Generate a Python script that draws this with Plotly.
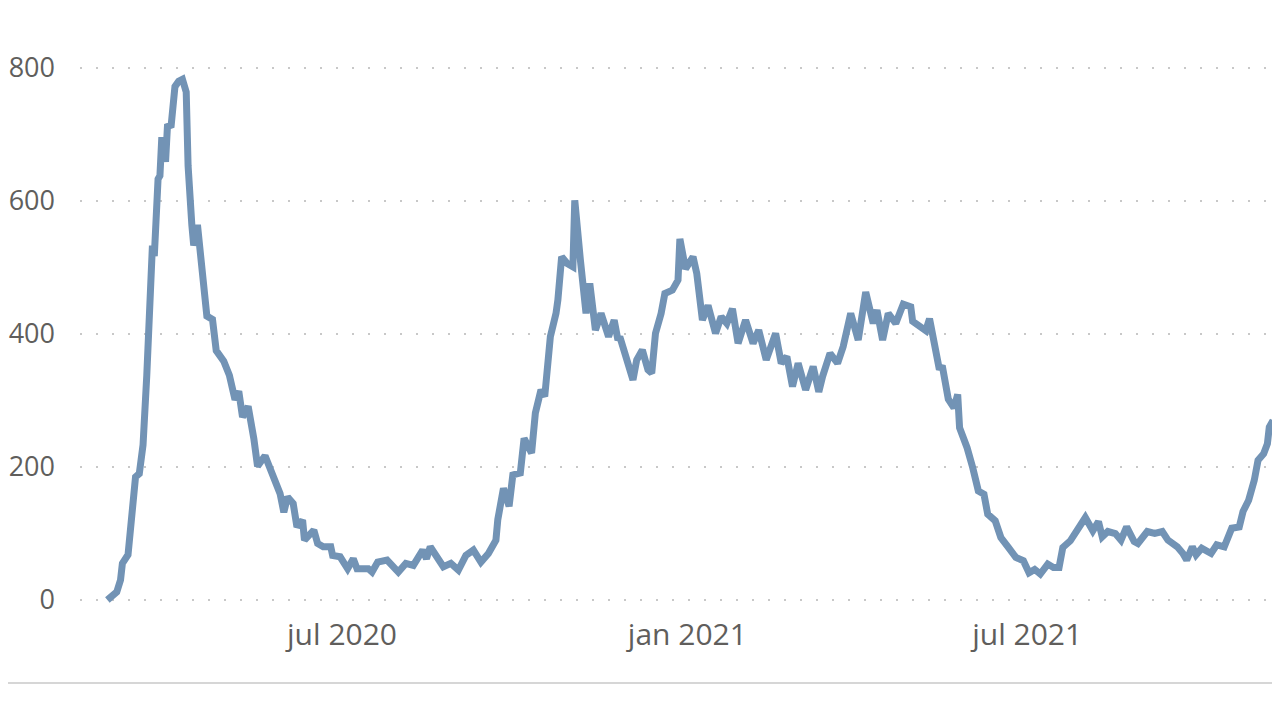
import pandas as pd
import plotly.graph_objects as go

start_date = "2020-02-27"
day = [0, 3, 5, 7, 8, 11, 13, 15, 17, 19, 21, 23, 24, 25, 26, 27, 28, 29, 31, 32,
       34, 36, 38, 40, 42, 43, 45, 46, 48, 50, 52, 53, 56, 58, 62, 65, 68, 70, 72, 75,
       78, 80, 84, 87, 92, 94, 96, 99, 101, 104, 105, 110, 112, 115, 119, 120, 124, 128, 131, 133,
       139, 141, 144, 149, 152, 155, 159, 163, 168, 170, 172, 175, 179, 183, 187, 191, 195, 199, 203, 207,
       208, 211, 214, 216, 220, 222, 226, 228, 231, 233, 236, 239, 240, 242, 245, 248, 249, 252, 255, 257,
       260, 263, 265, 267, 270, 272, 273, 277, 280, 282, 285, 288, 290, 292, 295, 297, 301, 304, 305, 308,
       312, 314, 317, 320, 322, 324, 327, 330, 333, 336, 340, 344, 347, 351, 356, 359, 362, 365, 368, 372,
       376, 379, 381, 385, 389, 392, 396, 400, 404, 408, 410, 413, 416, 420, 424, 428, 429, 433, 436, 438,
       440, 443, 445, 448, 451, 453, 454, 458, 461, 464, 467, 469, 473, 476, 480, 484, 488, 491, 494, 497,
       501, 504, 507, 509, 513, 517, 521, 525, 528, 530, 533, 537, 540, 543, 547, 549, 554, 558, 562, 565,
       570, 573, 575, 578, 580, 583, 588, 591, 595, 599, 603, 605, 608, 611, 613, 616, 618, 619, 621]
value = [0, 6, 12, 30, 55, 68, 130, 185, 190, 233, 338, 475, 533, 517, 590, 633, 638, 696, 659, 712,
         714, 772, 780, 783, 764, 653, 564, 533, 564, 512, 443, 427, 422, 375, 359, 338, 301, 314, 275, 291,
         243, 201, 217, 196, 160, 132, 155, 145, 110, 120, 90, 105, 85, 80, 80, 67, 65, 47, 62, 47,
         47, 42, 57, 60, 52, 42, 55, 52, 75, 62, 80, 67, 50, 55, 45, 67, 75, 57, 70, 90,
         121, 168, 141, 188, 191, 243, 221, 281, 316, 306, 396, 431, 451, 516, 506, 501, 601, 511, 431, 476,
         406, 431, 416, 396, 421, 391, 396, 361, 331, 361, 376, 346, 341, 401, 431, 461, 466, 481, 543, 498,
         516, 491, 421, 443, 421, 401, 426, 416, 438, 386, 421, 386, 406, 361, 401, 356, 366, 321, 356, 316,
         351, 313, 336, 371, 356, 381, 431, 391, 463, 416, 436, 391, 431, 416, 445, 441, 419, 412, 405, 423,
         389, 350, 349, 302, 289, 309, 259, 229, 199, 164, 159, 129, 119, 94, 79, 64, 59, 41, 46, 39,
         54, 49, 49, 79, 89, 106, 124, 104, 118, 95, 103, 100, 90, 110, 88, 85, 103, 100, 103, 90,
         80, 70, 60, 80, 68, 78, 70, 83, 80, 108, 110, 133, 150, 180, 210, 220, 235, 260, 270]
tick_dates = ["2020-07-01", "2021-01-01", "2021-07-01"]
tick_text = ["jul 2020", "jan 2021", "jul 2021"]

dates = pd.Timestamp(start_date) + pd.to_timedelta(day, unit="D")

fig = go.Figure()
fig.add_trace(go.Scatter(x=dates, y=value, mode="lines",
                         line=dict(color="#7293B5", width=7)))

# page body adds an 8px offset, margins compensate for it
fig.update_layout(width=1280, height=719,
                  margin=dict(l=72, r=8, t=32, b=115, autoexpand=False),
                  showlegend=False,
                  font=dict(family="Open Sans", size=30, color="#605E5C"),
                  plot_bgcolor="white", paper_bgcolor="white")
fig.update_xaxes(range=["2020-02-12 10:00", "2021-11-12 17:00"],
                 tickvals=tick_dates, ticktext=tick_text, automargin=False,
                 showgrid=False, zeroline=False, showline=False, ticks="",
                 ticklabelstandoff=2)
fig.update_yaxes(range=[-18.05, 842.1], tickvals=[0, 200, 400, 600, 800], automargin=False,
                 tickfont=dict(size=27),
                 showgrid=True, gridcolor="#C8C8C8", gridwidth=2, griddash="2px,14px",
                 zeroline=False, showline=False, ticks="", ticklabelstandoff=24)
fig.add_shape(type="line", xref="paper", yref="paper",
              x0=-0.07, x1=1.01, y0=-0.124, y1=-0.124,
              line=dict(color="#D6D6D6", width=2))

fig.write_html("out.html")
